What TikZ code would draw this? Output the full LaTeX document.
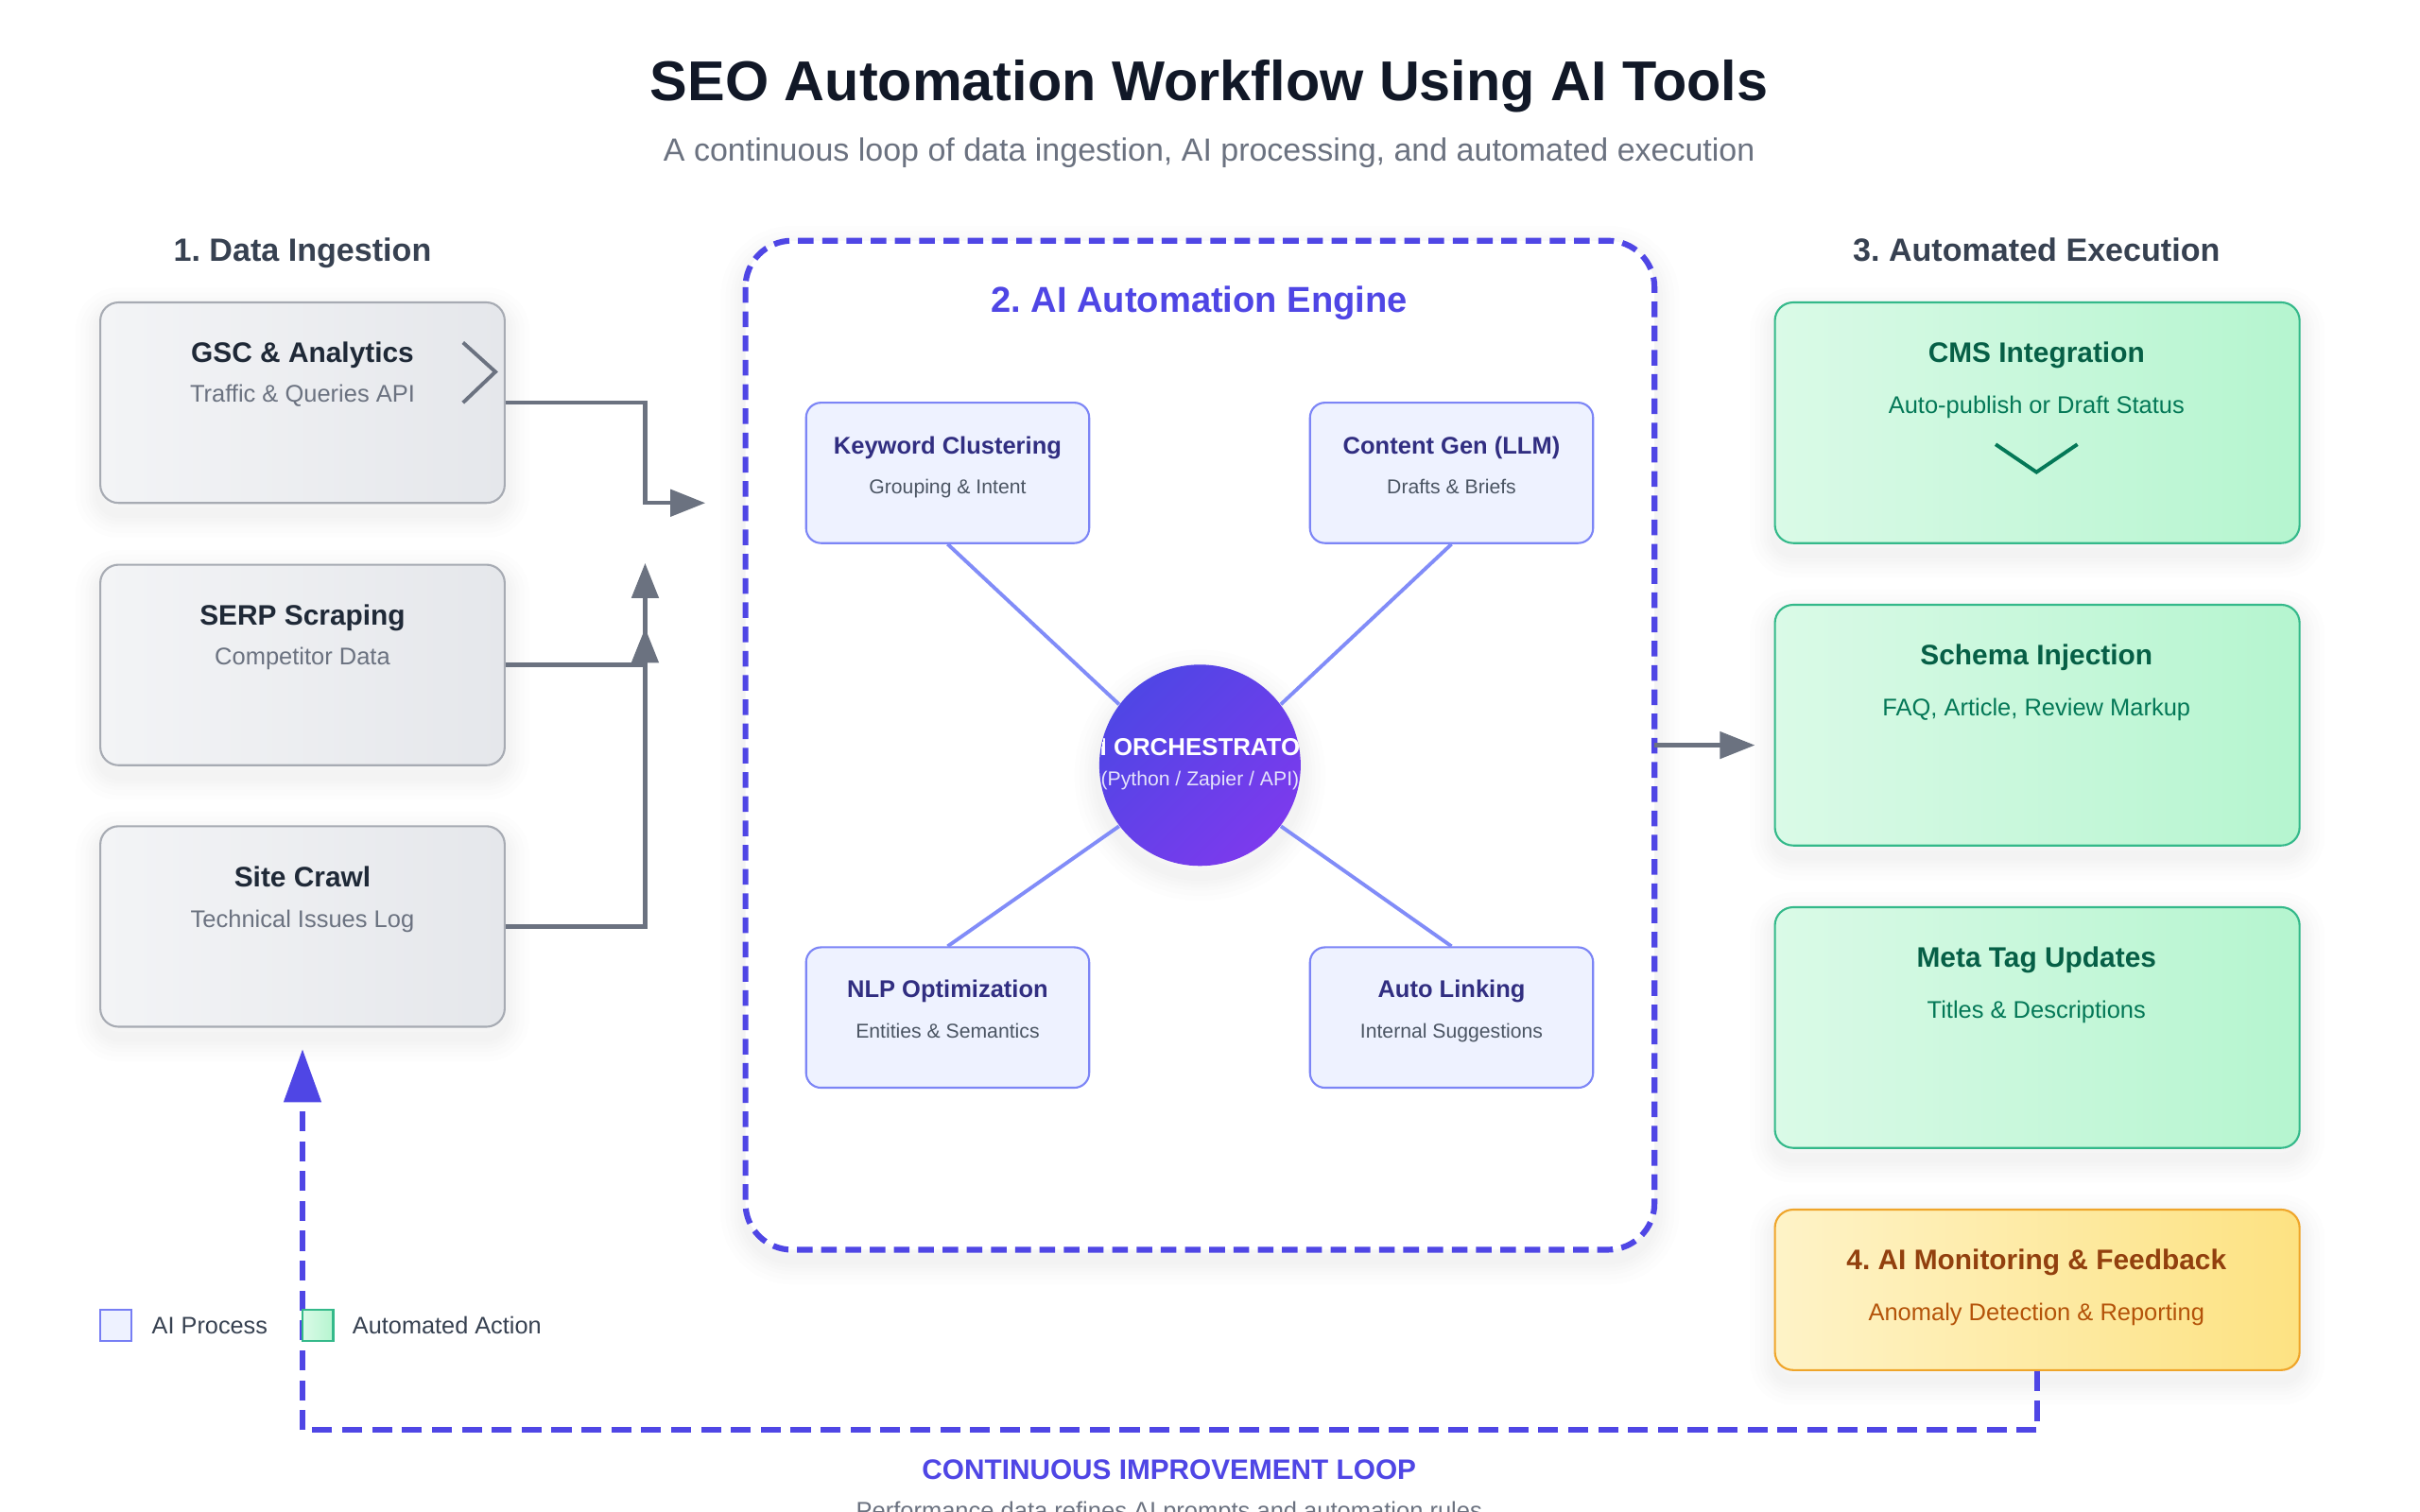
\documentclass[tikz,border=0pt]{standalone}
\usepackage{fontspec}
\setmainfont{Liberation Sans}
\usetikzlibrary{arrows.meta,shadows}

\definecolor{indigoline}{HTML}{4F46E5}
\definecolor{violetend}{HTML}{7C3AED}
\definecolor{spokeline}{HTML}{818CF8}
\definecolor{greyline}{HTML}{6B7280}
\definecolor{titleink}{HTML}{111827}
\definecolor{headink}{HTML}{374151}
\definecolor{inputink}{HTML}{1F2937}
\definecolor{inputa}{HTML}{F3F4F6}
\definecolor{inputb}{HTML}{E5E7EB}
\definecolor{inputedge}{HTML}{A7ABB3}
\definecolor{aifill}{HTML}{EEF2FF}
\definecolor{aiink}{HTML}{312E81}
\definecolor{aisubink}{HTML}{4B5563}
\definecolor{greena}{HTML}{DAFAE7}
\definecolor{greenb}{HTML}{B5F5CF}
\definecolor{greenedge}{HTML}{34B98A}
\definecolor{greenink}{HTML}{065F46}
\definecolor{greensub}{HTML}{047857}
\definecolor{ambera}{HTML}{FEF3C7}
\definecolor{amberb}{HTML}{FDE282}
\definecolor{amberedge}{HTML}{EFA52A}
\definecolor{amberink}{HTML}{92400E}
\definecolor{ambersub}{HTML}{B45309}

\tikzset{
  shadowlayer/.style={general shadow={shadow yshift=-3pt,draw=black,solid,line width=#1,opacity=.009}},
  softshadow/.style={shadowlayer=15pt,shadowlayer=12pt,shadowlayer=9pt,shadowlayer=7pt,shadowlayer=5pt,shadowlayer=3pt},
  txt/.style={inner sep=0pt,text height=.72em,text depth=.2em},
  titletext/.style={txt,font=\fontsize{16.9}{20}\selectfont\bfseries,text=titleink},
  subtitletext/.style={txt,font=\fontsize{9.67}{12}\selectfont,text=greyline},
  headtext/.style={txt,font=\fontsize{9.7}{12}\selectfont\bfseries,text=headink},
  boxhead/.style={txt,font=\fontsize{8.5}{11}\selectfont\bfseries},
  boxsub/.style={txt,font=\fontsize{7.25}{9}\selectfont},
  aihead/.style={txt,font=\fontsize{7.26}{9}\selectfont\bfseries,text=aiink},
  aisub/.style={txt,font=\fontsize{6.03}{8}\selectfont,text=aisubink},
  inputbox/.style={draw=inputedge,line width=.6pt,rounded corners=5.5pt,minimum width=4.278cm,minimum height=2.122cm,
    left color=inputa,right color=inputb,softshadow},
  aibox/.style={draw=spokeline!90!indigoline,line width=.6pt,fill=aifill,rounded corners=4.5pt,
    minimum width=2.995cm,minimum height=1.486cm},
  outputbox/.style={draw=greenedge,line width=.6pt,rounded corners=5.5pt,minimum width=5.551cm,minimum height=2.547cm,
    left color=greena,right color=greenb,softshadow},
  monitorbox/.style={draw=amberedge,line width=.6pt,rounded corners=5.5pt,minimum width=5.551cm,minimum height=1.698cm,
    left color=ambera,right color=amberb,softshadow},
  flowline/.style={draw=greyline,line width=1.25pt,-{Triangle[length=10.5pt,width=8pt]}},
  spoke/.style={draw=spokeline,line width=1.1pt},
  loopline/.style={draw=indigoline,line width=1.7pt,dash pattern=on 6pt off 3pt,-{Triangle[length=16pt,width=11pt]}},
  legendtext/.style={txt,anchor=west,font=\fontsize{7.2}{9}\selectfont,text=headink},
  legendkey/.style={minimum width=.327cm,minimum height=.327cm,inner sep=0pt,line width=.7pt}
}

\begin{document}
\frenchspacing
\begin{tikzpicture}[x=0.016327cm,y=-0.016327cm]
  \useasboundingbox[fill=white] (0,0) rectangle (1568,979.4);

  % Draw title
  \node[titletext] (title) at (783.5,59.5) {SEO Automation Workflow Using AI Tools};
  \node[subtitletext] (subtitle) at (783.5,99) {A continuous loop of data ingestion, AI processing, and automated execution};

  % Draw data ingestion
  \node[headtext] (inhead) at (196,164) {1. Data Ingestion};
  \node[inputbox] (gsc) at (196,261) {};
  \node[inputbox] (serp) at (196,431) {};
  \node[inputbox] (crawl) at (196,600.5) {};
  \node[boxhead,text=inputink] (gsctitle) at (196,229.5) {GSC \& Analytics};
  \node[boxsub,text=greyline] (gscsub) at (196,255.3) {Traffic \& Queries API};
  \node[boxhead,text=inputink] (serptitle) at (196,399.5) {SERP Scraping};
  \node[boxsub,text=greyline] (serpsub) at (196,425.3) {Competitor Data};
  \node[boxhead,text=inputink] (crawltitle) at (196,569.5) {Site Crawl};
  \node[boxsub,text=greyline] (crawlsub) at (196,595.3) {Technical Issues Log};
  \draw[greyline,line width=1.1pt] (300,222) -- (321,241) -- (300,261);

  % Draw engine frame
  \draw[indigoline,line width=1.75pt,dash pattern=on 4.7pt off 2.6pt,rounded corners=14pt,softshadow,fill=white]
        (483,156) rectangle (1072,810);
  \node[headtext,text=indigoline,font=\fontsize{10.85}{13}\selectfont\bfseries] (enginehead) at (777,197) {2. AI Automation Engine};

  % Draw engine boxes
  \node[aibox] (keyword) at (614,306.5) {};
  \node[aibox] (content) at (940.5,306.5) {};
  \node[aibox] (nlp) at (614,659.5) {};
  \node[aibox] (linking) at (940.5,659.5) {};
  \node[aihead] (keywordtitle) at (614,288.5) {Keyword Clustering};
  \node[aisub] (keywordsub) at (614,314.3) {Grouping \& Intent};
  \node[aihead] (contenttitle) at (940.5,288.5) {Content Gen (LLM)};
  \node[aisub] (contentsub) at (940.5,314.3) {Drafts \& Briefs};
  \node[aihead] (nlptitle) at (614,641) {NLP Optimization};
  \node[aisub] (nlpsub) at (614,667.3) {Entities \& Semantics};
  \node[aihead] (linkingtitle) at (940.5,641) {Auto Linking};
  \node[aisub] (linkingsub) at (940.5,667.3) {Internal Suggestions};

  % Draw orchestrator
  \node[circle,minimum size=2.13cm,inner sep=0pt,shading=axis,left color=indigoline,right color=violetend,
        shading angle=45,softshadow] (orch) at (777.5,496) {};
  \draw[spoke] (keyword.south) -- (orch.143);
  \draw[spoke] (content.south) -- (orch.37);
  \draw[spoke] (nlp.north) -- (orch.217);
  \draw[spoke] (linking.north) -- (orch.-37);
  \begin{scope}
    \clip (777.5,496) circle (65);
    \node[txt,font=\fontsize{7.35}{9}\selectfont\bfseries,text=white] (orchtitle) at (777.5,484) {AI ORCHESTRATOR};
    \node[txt,font=\fontsize{6.03}{8}\selectfont,text=white!85!indigoline] (orchsub) at (777.5,503.7) {(Python / Zapier / API)};
  \end{scope}

  % Draw execution
  \node[headtext] (outhead) at (1319.5,164) {3. Automated Execution};
  \node[outputbox] (cms) at (1320,274) {};
  \node[outputbox] (schema) at (1320,470) {};
  \node[outputbox] (meta) at (1320,666) {};
  \node[monitorbox] (monitor) at (1320,836) {};
  \node[boxhead,text=greenink] (cmstitle) at (1319.5,229) {CMS Integration};
  \node[boxsub,text=greensub] (cmssub) at (1319.5,262.5) {Auto-publish or Draft Status};
  \node[boxhead,text=greenink] (schematitle) at (1319.5,425) {Schema Injection};
  \node[boxsub,text=greensub] (schemasub) at (1319.5,458.5) {FAQ, Article, Review Markup};
  \node[boxhead,text=greenink] (metatitle) at (1319.5,621) {Meta Tag Updates};
  \node[boxsub,text=greensub] (metasub) at (1319.5,654.5) {Titles \& Descriptions};
  \node[boxhead,text=amberink] (monitortitle) at (1319.5,817) {4. AI Monitoring \& Feedback};
  \node[boxsub,text=ambersub] (monitorsub) at (1319.5,850.5) {Anomaly Detection \& Reporting};
  \draw[greensub,line width=1.1pt] (1293,288) -- (1319.5,306) -- (1346,288);

  % Draw flow arrows
  \coordinate (gscbend) at (418,326);
  \coordinate (gscend) at (457,326);
  \coordinate (serpend) at (418,407);
  \coordinate (crawlend) at (418,365);
  \coordinate (enginein) at (1072,483);
  \coordinate (engineout) at (1137,483);
  \draw[flowline] (gsc.east) -| (gscbend) -- (gscend);
  \draw[flowline] (crawl.east) -| (crawlend);
  \draw[flowline] (serp.east) -| (serpend);
  \draw[flowline] (enginein) -- (engineout);

  % Draw feedback loop
  \coordinate (loopcorner) at (196,927);
  \coordinate (loopend) at (196,680);
  \draw[loopline] (monitor.south) |- (loopcorner) -- (loopend);
  \node[txt,font=\fontsize{8.47}{10}\selectfont\bfseries,text=indigoline] (looptitle) at (757.5,953.5) {CONTINUOUS IMPROVEMENT LOOP};
  \node[txt,font=\fontsize{7.26}{9}\selectfont,text=greyline] (loopsub) at (757.5,979) {Performance data refines AI prompts and automation rules};

  % Draw legend
  \node[legendkey,draw=spokeline!80!indigoline,fill=aifill] (aikey) at (75,859) {};
  \node[legendtext] (ailabel) at (98,859) {AI Process};
  \node[legendkey,draw=greenedge,left color=greena,right color=greenb] (autokey) at (206,859) {};
  \node[legendtext] (autolabel) at (228,859) {Automated Action};
\end{tikzpicture}
\end{document}
